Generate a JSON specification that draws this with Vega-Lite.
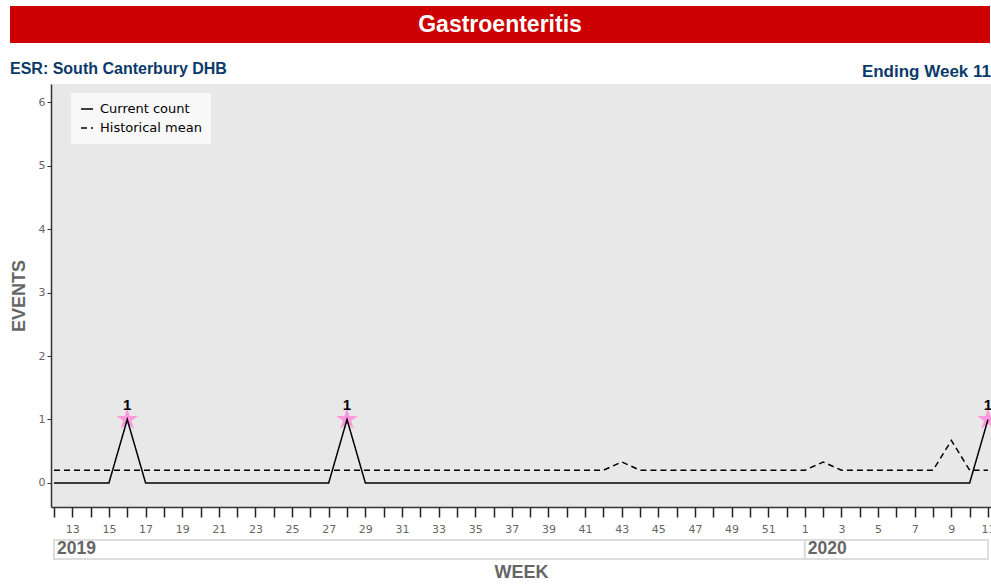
{
  "$schema": "https://vega.github.io/schema/vega-lite/v6.json",
  "background": "white",
  "padding": {"left": 10, "top": 6, "right": 0, "bottom": 0},
  "spacing": 18,
  "columns": 1,
  "align": "none",
  "config": {"view": {"stroke": null}},
  "resolve": {"legend": {"strokeDash": "independent"}},
  "datasets": {
    "weekly": [
      {"week": 12, "Current count": 0, "Historical mean": 0.2},
      {"week": 13, "Current count": 0, "Historical mean": 0.2},
      {"week": 14, "Current count": 0, "Historical mean": 0.2},
      {"week": 15, "Current count": 0, "Historical mean": 0.2},
      {"week": 16, "Current count": 1, "Historical mean": 0.2},
      {"week": 17, "Current count": 0, "Historical mean": 0.2},
      {"week": 18, "Current count": 0, "Historical mean": 0.2},
      {"week": 19, "Current count": 0, "Historical mean": 0.2},
      {"week": 20, "Current count": 0, "Historical mean": 0.2},
      {"week": 21, "Current count": 0, "Historical mean": 0.2},
      {"week": 22, "Current count": 0, "Historical mean": 0.2},
      {"week": 23, "Current count": 0, "Historical mean": 0.2},
      {"week": 24, "Current count": 0, "Historical mean": 0.2},
      {"week": 25, "Current count": 0, "Historical mean": 0.2},
      {"week": 26, "Current count": 0, "Historical mean": 0.2},
      {"week": 27, "Current count": 0, "Historical mean": 0.2},
      {"week": 28, "Current count": 1, "Historical mean": 0.2},
      {"week": 29, "Current count": 0, "Historical mean": 0.2},
      {"week": 30, "Current count": 0, "Historical mean": 0.2},
      {"week": 31, "Current count": 0, "Historical mean": 0.2},
      {"week": 32, "Current count": 0, "Historical mean": 0.2},
      {"week": 33, "Current count": 0, "Historical mean": 0.2},
      {"week": 34, "Current count": 0, "Historical mean": 0.2},
      {"week": 35, "Current count": 0, "Historical mean": 0.2},
      {"week": 36, "Current count": 0, "Historical mean": 0.2},
      {"week": 37, "Current count": 0, "Historical mean": 0.2},
      {"week": 38, "Current count": 0, "Historical mean": 0.2},
      {"week": 39, "Current count": 0, "Historical mean": 0.2},
      {"week": 40, "Current count": 0, "Historical mean": 0.2},
      {"week": 41, "Current count": 0, "Historical mean": 0.2},
      {"week": 42, "Current count": 0, "Historical mean": 0.2},
      {"week": 43, "Current count": 0, "Historical mean": 0.33},
      {"week": 44, "Current count": 0, "Historical mean": 0.2},
      {"week": 45, "Current count": 0, "Historical mean": 0.2},
      {"week": 46, "Current count": 0, "Historical mean": 0.2},
      {"week": 47, "Current count": 0, "Historical mean": 0.2},
      {"week": 48, "Current count": 0, "Historical mean": 0.2},
      {"week": 49, "Current count": 0, "Historical mean": 0.2},
      {"week": 50, "Current count": 0, "Historical mean": 0.2},
      {"week": 51, "Current count": 0, "Historical mean": 0.2},
      {"week": 52, "Current count": 0, "Historical mean": 0.2},
      {"week": 1, "Current count": 0, "Historical mean": 0.2},
      {"week": 2, "Current count": 0, "Historical mean": 0.33},
      {"week": 3, "Current count": 0, "Historical mean": 0.2},
      {"week": 4, "Current count": 0, "Historical mean": 0.2},
      {"week": 5, "Current count": 0, "Historical mean": 0.2},
      {"week": 6, "Current count": 0, "Historical mean": 0.2},
      {"week": 7, "Current count": 0, "Historical mean": 0.2},
      {"week": 8, "Current count": 0, "Historical mean": 0.2},
      {"week": 9, "Current count": 0, "Historical mean": 0.67},
      {"week": 10, "Current count": 0, "Historical mean": 0.2},
      {"week": 11, "Current count": 1, "Historical mean": 0.2}
    ],
    "years": [
      {"year": "2019", "start": 12, "end": 1, "lo": -0.9, "hi": -1.2, "mid": -1.05},
      {"year": "2020", "start": 1, "end": 11, "lo": -0.9, "hi": -1.2, "mid": -1.05}
    ]
  },
  "concat": [
    {
      "width": 940,
      "height": 37,
      "data": {"values": [{"label": "Gastroenteritis"}]},
      "layer": [
        {
          "mark": {"type": "rect", "fill": "#cc0000"},
          "encoding": {
            "x": {"value": -41},
            "x2": {"value": 939},
            "y": {"value": 0},
            "y2": {"value": 37}
          }
        },
        {
          "mark": {"type": "text", "color": "white", "font": "Liberation Sans", "fontWeight": "bold", "fontSize": 23, "align": "center", "baseline": "middle", "dx": -21},
          "encoding": {"text": {"field": "label"}}
        }
      ]
    },
    {
      "width": 940,
      "height": 423,
      "view": {"fill": "#e8e8e8", "stroke": null},
      "title": {"text": "ESR: South Canterbury DHB", "anchor": "start", "frame": "bounds", "font": "Liberation Sans", "fontSize": 16, "fontWeight": "bold", "color": "#0b3a6a", "offset": -14},
      "encoding": {
        "x": {
          "field": "week", "type": "ordinal",
          "scale": {"type": "point", "padding": 0.164, "domain": [12,13,14,15,16,17,18,19,20,21,22,23,24,25,26,27,28,29,30,31,32,33,34,35,36,37,38,39,40,41,42,43,44,45,46,47,48,49,50,51,52,1,2,3,4,5,6,7,8,9,10,11]},
          "axis": {
            "title": "WEEK", "titleFont": "Liberation Sans", "titleFontSize": 18, "titleFontWeight": "bold", "titleColor": "#666666", "titlePadding": 29,
            "labelAngle": 0, "labelFont": "DejaVu Sans", "labelFontSize": 11, "labelColor": "#666666", "labelPadding": 6,
            "labelExpr": "datum.value % 2 == 1 ? datum.label : ''",
            "tickSize": 10, "tickColor": "#222222", "tickWidth": 1.5,
            "domainColor": "#333333", "domainWidth": 1.5, "grid": false
          }
        },
        "y": {
          "type": "quantitative",
          "scale": {"domain": [-0.38, 6.29], "nice": false, "zero": false},
          "axis": {
            "title": "EVENTS", "titleFont": "Liberation Sans", "titleFontSize": 18, "titleFontWeight": "bold", "titleColor": "#666666", "titlePadding": 10,
            "values": [0, 1, 2, 3, 4, 5, 6], "labelFont": "DejaVu Sans", "labelFontSize": 11, "labelColor": "#666666", "labelPadding": 2,
            "tickSize": 4, "tickColor": "#333333", "domainColor": "#333333", "domainWidth": 1.5, "grid": false
          }
        }
      },
      "layer": [
        {
          "data": {"name": "years"},
          "mark": {"type": "rect", "fill": "white", "stroke": "#dddddd", "strokeWidth": 2},
          "encoding": {
            "x": {"field": "start", "type": "ordinal"},
            "x2": {"field": "end"},
            "y": {"field": "lo", "type": "quantitative"},
            "y2": {"field": "hi"}
          }
        },
        {
          "data": {"name": "years"},
          "mark": {"type": "text", "align": "left", "baseline": "middle", "dx": 3, "font": "Liberation Sans", "fontSize": 17.5, "fontWeight": "bold", "color": "#666666"},
          "encoding": {
            "x": {"field": "start", "type": "ordinal"},
            "y": {"field": "mid", "type": "quantitative"},
            "text": {"field": "year"}
          }
        },
        {
          "data": {"name": "weekly"},
          "transform": [{"filter": "datum['Current count'] > 0"}],
          "mark": {"type": "point", "shape": "M0,-1L0.2245,-0.309L0.951,-0.309L0.363,0.118L0.588,0.809L0,0.382L-0.588,0.809L-0.363,0.118L-0.951,-0.309L-0.2245,-0.309Z", "filled": true, "color": "#ff99dd", "opacity": 1, "size": 520},
          "encoding": {
            "y": {"field": "Current count", "type": "quantitative"}
          }
        },
        {
          "data": {"name": "weekly"},
          "transform": [{"fold": ["Current count", "Historical mean"], "as": ["series", "value"]}],
          "mark": {"type": "line", "color": "black", "strokeWidth": 1.5},
          "encoding": {
            "y": {"field": "value", "type": "quantitative"},
            "strokeDash": {
              "field": "series", "type": "nominal",
              "scale": {"domain": ["Current count", "Historical mean"], "range": [[1, 0], [6, 4]]},
              "legend": {
                "title": null, "orient": "none", "legendX": 20, "legendY": 9,
                "fillColor": "#f8f8f8", "padding": 9, "symbolType": "stroke", "symbolSize": 144, "symbolStrokeWidth": 1.5, "symbolStrokeColor": "black",
                "labelFont": "DejaVu Sans", "labelFontSize": 13, "labelColor": "black", "rowPadding": 5, "labelOffset": 6
              }
            }
          }
        },
        {
          "data": {"name": "weekly"},
          "transform": [{"filter": "datum['Current count'] > 0"}],
          "mark": {"type": "text", "dy": -14, "font": "Liberation Sans", "fontSize": 15, "fontWeight": "bold", "color": "black", "baseline": "middle"},
          "encoding": {
            "y": {"field": "Current count", "type": "quantitative"},
            "text": {"field": "Current count", "type": "quantitative"}
          }
        },
        {
          "data": {"values": [{"label": "Ending Week 11"}]},
          "mark": {"type": "text", "align": "right", "baseline": "alphabetic", "font": "Liberation Sans", "fontSize": 17, "fontWeight": "bold", "color": "#0b3a6a"},
          "encoding": {
            "x": {"value": "width"},
            "y": {"value": -7},
            "text": {"field": "label"}
          }
        }
      ],
      "resolve": {"scale": {"x": "shared"}}
    }
  ]
}
